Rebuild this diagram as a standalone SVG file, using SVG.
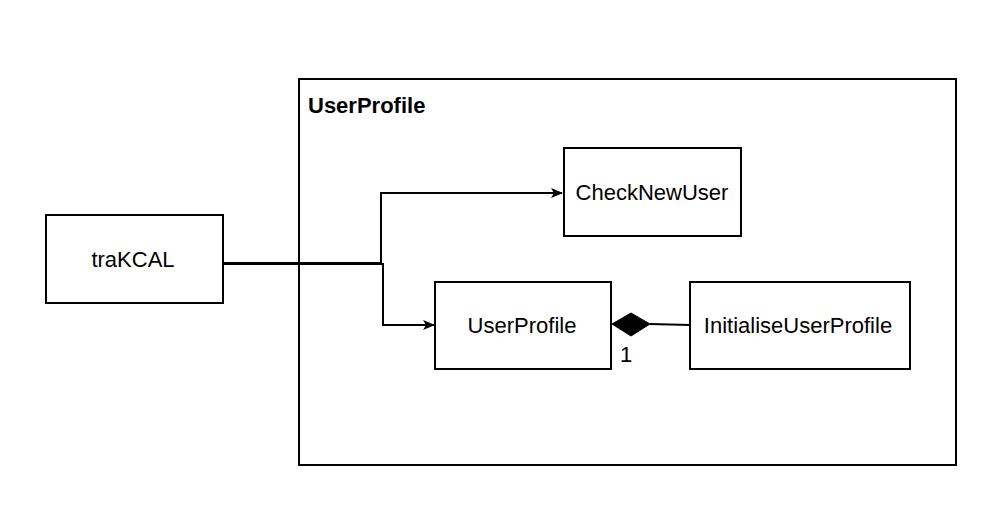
<svg xmlns="http://www.w3.org/2000/svg" width="1006" height="526" viewBox="0 0 1006 526">
<style>
.box{fill:#fff;stroke:#000;stroke-width:2}
.t{font-family:"Liberation Sans",Arial,sans-serif;font-size:22px;fill:#000}
.c{fill:none;stroke:#000;stroke-width:2}
</style>
<defs>
<marker id="arr" markerWidth="12" markerHeight="10" refX="11" refY="5" orient="auto" markerUnits="userSpaceOnUse">
<path d="M0,0 L12,5 L0,10 L3,5 Z" fill="#000"/>
</marker>
</defs>
<rect width="1006" height="526" fill="#fff"/>
<g id="container">
<rect class="box" x="299" y="79" width="657" height="386"/>
<text class="t" x="308" y="113" font-weight="bold">UserProfile</text>
</g>
<g id="traKCAL">
<rect class="box" x="46" y="215" width="177" height="88"/>
<text class="t" x="133" y="267" text-anchor="middle">traKCAL</text>
</g>
<g id="CheckNewUser">
<rect class="box" x="564" y="148" width="177" height="88"/>
<text class="t" x="652" y="200" text-anchor="middle">CheckNewUser</text>
</g>
<g id="UserProfileNode">
<rect class="box" x="435" y="282" width="176" height="87"/>
<text class="t" x="522" y="333" text-anchor="middle">UserProfile</text>
</g>
<g id="InitialiseUserProfile">
<rect class="box" x="690" y="282" width="220" height="87"/>
<text class="t" x="798" y="333" text-anchor="middle">InitialiseUserProfile</text>
</g>
<g id="connectors">
<path class="c" d="M223,263 L381,263 L381,193 L562,193" marker-end="url(#arr)"/>
<path class="c" d="M223,264 L383,264 L383,325 L434,325" marker-end="url(#arr)"/>
<path class="c" d="M690,325 L650,324"/>
<path d="M612,324 L631,313 L650,324 L631,336 Z" fill="#000" stroke="#000" stroke-width="1"/>
<text class="t" x="620" y="362">1</text>
</g>
</svg>
